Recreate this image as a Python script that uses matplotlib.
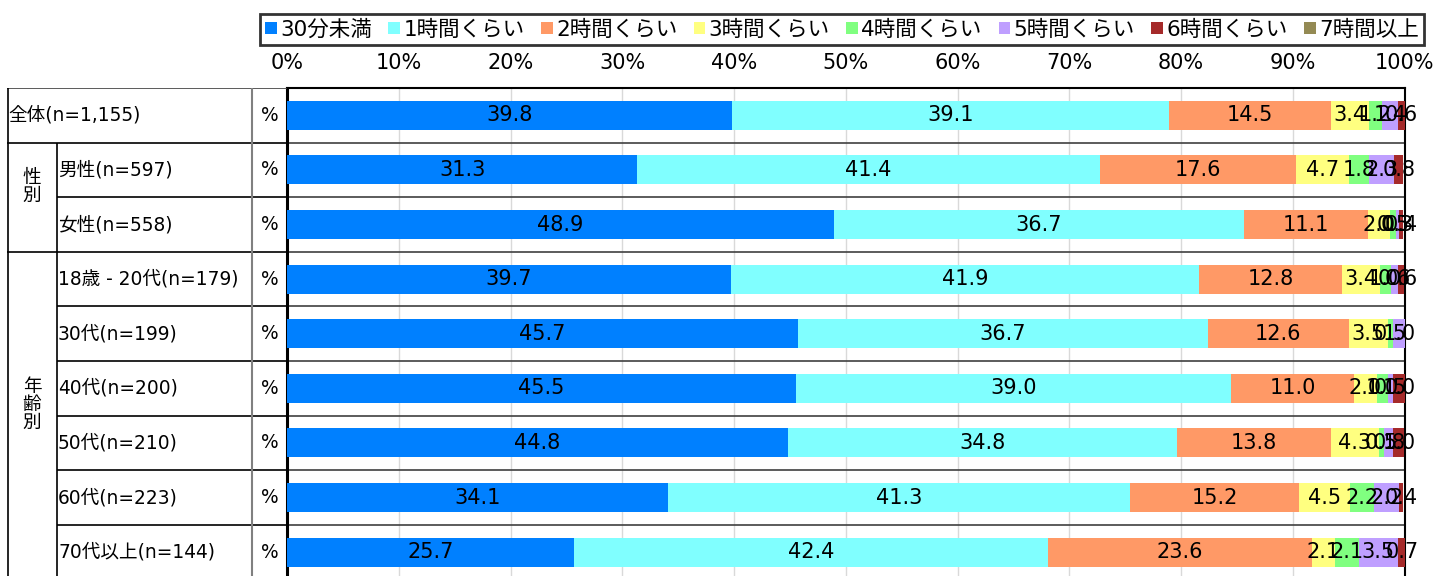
import matplotlib.pyplot as plt
from matplotlib.patches import Patch

plt.rcParams['font.family'] = ['DejaVu Sans', 'Noto Sans CJK JP']

categories = ['30分未満', '1時間くらい', '2時間くらい', '3時間くらい',
              '4時間くらい', '5時間くらい', '6時間くらい', '7時間以上']
colors = ['#0080FF', '#80FFFF', '#FF9966', '#FFFF80',
          '#80FF80', '#BF9FFF', '#A52A2A', '#948A54']

row_labels = ['全体(n=1,155)', '男性(n=597)', '女性(n=558)', '18歳 - 20代(n=179)',
              '30代(n=199)', '40代(n=200)', '50代(n=210)', '60代(n=223)',
              '70代以上(n=144)']
groups = [('性\n別', 1, 3), ('年\n齢\n別', 3, 9)]

v_30min = [39.8, 31.3, 48.9, 39.7, 45.7, 45.5, 44.8, 34.1, 25.7]
v_1h = [39.1, 41.4, 36.7, 41.9, 36.7, 39.0, 34.8, 41.3, 42.4]
v_2h = [14.5, 17.6, 11.1, 12.8, 12.6, 11.0, 13.8, 15.2, 23.6]
v_3h = [3.4, 4.7, 2.0, 3.4, 3.5, 2.0, 4.3, 4.5, 2.1]
v_4h = [1.2, 1.8, 0.5, 1.0, 0.5, 1.0, 0.5, 2.2, 2.1]
v_5h = [1.4, 2.3, 0.3, 0.6, 1.0, 0.5, 0.8, 2.2, 3.5]
v_6h = [0.6, 0.8, 0.4, 0.6, 0.0, 1.0, 1.0, 0.4, 0.7]
v_7h = [0.0, 0.0, 0.0, 0.0, 0.0, 0.0, 0.0, 0.0, 0.0]
series = [v_30min, v_1h, v_2h, v_3h, v_4h, v_5h, v_6h, v_7h]

xticks = [0, 10, 20, 30, 40, 50, 60, 70, 80, 90, 100]

W, H = 1441, 576
n = len(row_labels)
row_px = 54.6
top_px = 88
x0_px, x1_px = 287.3, 1404.5
tbl_left = 7
bottom = 1 - (top_px + n * row_px) / H
height = n * row_px / H

fig = plt.figure(figsize=(W / 100, H / 100), dpi=100)
ax = fig.add_axes([x0_px / W, bottom, (x1_px - x0_px) / W, height])
ax_t = fig.add_axes([tbl_left / W, bottom, (x0_px - tbl_left) / W, height])

# stacked bars
ys = [i + 0.5 for i in range(n)]
left = [0.0] * n
for vals, col in zip(series, colors):
    ax.barh(ys, vals, left=left, height=0.53, color=col, zorder=3)
    for y, l, v in zip(ys, left, vals):
        if v > 0:
            ax.text(l + v / 2, y, f'{v:.1f}', ha='center', va='center',
                    fontsize=15, color='black', zorder=4, clip_on=False)
    left = [l + v for l, v in zip(left, vals)]

ax.set_xlim(0, 100)
ax.set_ylim(n, 0)
ax.set_yticks([])
ax.set_xticks(xticks)
ax.set_xticklabels([f'{t}%' for t in xticks], fontsize=15)
ax.xaxis.tick_top()
ax.tick_params(axis='x', length=0, pad=11)
ax.grid(axis='x', color='#d9d9d9', lw=1, zorder=0)
for y in range(1, n):
    ax.axhline(y, color='#404040', lw=1.2, zorder=2)
for s in ['top', 'right']:
    ax.spines[s].set_color('black')
    ax.spines[s].set_linewidth(1.5)
ax.spines['left'].set_linewidth(2.2)
ax.spines['bottom'].set_visible(False)

# left-hand table
sub_x = 57
pct_x = 252
ax_t.set_xlim(tbl_left, x0_px)
ax_t.set_ylim(n, 0)
ax_t.axis('off')
ax_t.hlines(0, tbl_left, x0_px, color='#404040', lw=1.2)
for y in range(1, n):
    in_group = any(a < y < b for _, a, b in groups)
    ax_t.hlines(y, sub_x if in_group else tbl_left, x0_px, color='black', lw=1.2)
ax_t.vlines(tbl_left + 0.6, 0, n, color='black', lw=1.2)
ax_t.vlines(sub_x, 1, n, color='black', lw=1.2)
ax_t.vlines(pct_x, 0, n, color='#808080', lw=1.5)

for i, lab in enumerate(row_labels):
    x = tbl_left + 1 if i == 0 else sub_x + 1
    ax_t.text(x, i + 0.5, lab, ha='left', va='center', fontsize=13.4)
    ax_t.text((pct_x + x0_px) / 2, i + 0.5, '%', ha='center', va='center',
              fontsize=13.4)
for lab, a, b in groups:
    ax_t.text((tbl_left + sub_x) / 2, (a + b) / 2 - 0.2, lab, ha='center',
              va='center', fontsize=13.4, linespacing=0.95)

handles = [Patch(facecolor=c, edgecolor='none') for c in colors]
leg = fig.legend(handles, categories, ncol=len(categories), loc='lower left',
                 bbox_to_anchor=(260 / W, 1 - 45 / H, (1424 - 260) / W, 37 / H),
                 mode='expand', fontsize=15.5, frameon=True, fancybox=False,
                 handlelength=0.55, handleheight=0.55, handletextpad=0.15,
                 borderaxespad=0, borderpad=0.25, columnspacing=0.6)
leg.get_frame().set_edgecolor('black')
leg.get_frame().set_linewidth(2)

fig.savefig('out.png', dpi=100)
